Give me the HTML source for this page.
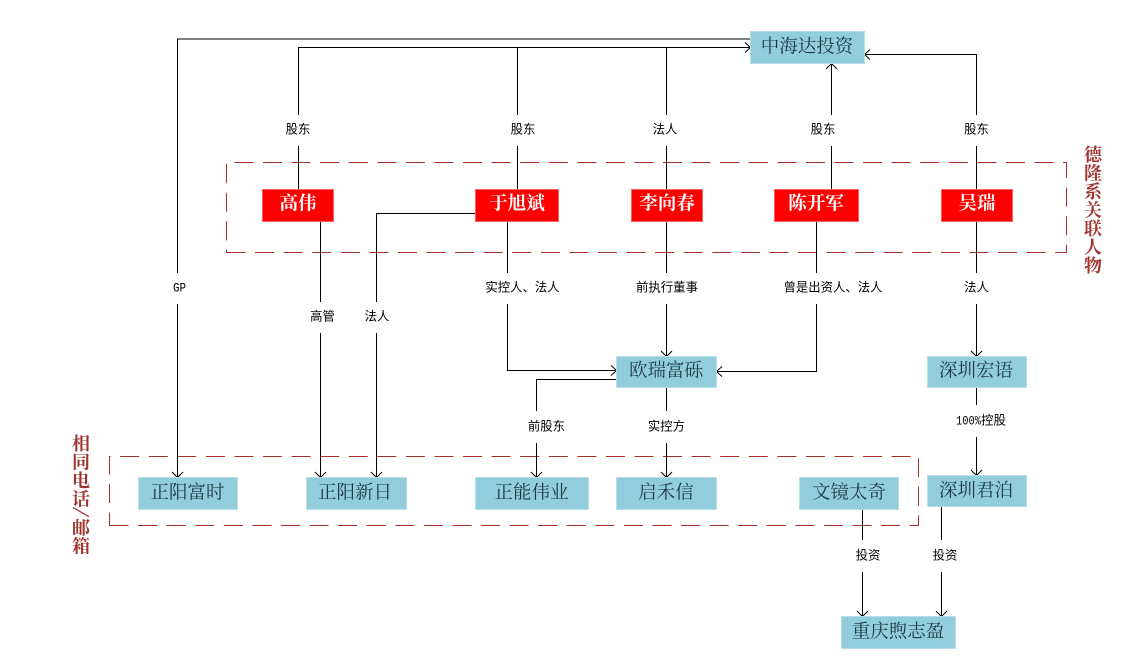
<!DOCTYPE html>
<html><head><meta charset="utf-8">
<style>
html,body{margin:0;padding:0;background:#fff;}
svg{display:block;}
.b{fill:#92cddc;stroke:#b7dee8;stroke-width:1;}
.r{fill:#ff0000;stroke:#ff6060;stroke-width:1;}
.bt{font-family:"Liberation Serif","Noto Serif CJK SC",serif;font-size:18.5px;fill:#1f3a44;text-anchor:middle;}
.rt{font-family:"Liberation Serif","Noto Serif CJK SC",serif;font-size:18.5px;font-weight:bold;fill:#fff;text-anchor:middle;}
.l{font-family:"Liberation Sans","WenQuanYi Zen Hei",sans-serif;font-size:12.4px;fill:#000;text-anchor:middle;}
.m{font-family:"Liberation Mono",monospace;font-size:12.5px;fill:#000;}
.v{font-family:"Liberation Serif","Noto Serif CJK SC",serif;font-size:18px;font-weight:bold;fill:#a0352f;text-anchor:middle;}
.c{fill:none;stroke:#000;stroke-width:1;}
.d{fill:none;stroke:#a8302b;stroke-width:1;stroke-dasharray:19.05 9.525;}
</style></head>
<body>
<svg width="1148" height="666" viewBox="0 0 1148 666" xmlns="http://www.w3.org/2000/svg">
<path class="d" d="M226.5 252.5H1066.5V162.5H226.5Z"/>
<path class="d" d="M109.5 525.5H918.5V456.5H109.5Z"/>

<!-- connectors -->
<path class="c" d="M177.5 273V39H750M177.5 304V477"/>
<path class="c" d="M298.5 115V47.5H750M298.5 146V189"/>
<path class="c" d="M517.5 115V47.5M517.5 146V189"/>
<path class="c" d="M666.5 115V47.5M666.5 146V189"/>
<path class="c" d="M831.5 115V63M831.5 146V189"/>
<path class="c" d="M976.5 115V54.5H864M976.5 146V189"/>
<path class="c" d="M320.5 221V302M320.5 333V477"/>
<path class="c" d="M475 213.5H376.5V302M376.5 333V477"/>
<path class="c" d="M507.5 221V273M507.5 304V370.5H616"/>
<path class="c" d="M666.5 221V273M666.5 304V356"/>
<path class="c" d="M816.5 221V273M816.5 304V371.5H717"/>
<path class="c" d="M976.5 221V273M976.5 304V356"/>
<path class="c" d="M616 379.5H536.5V411M536.5 443V477"/>
<path class="c" d="M666.5 387V411M666.5 443V477"/>
<path class="c" d="M976.5 387V405M976.5 437V475"/>
<path class="c" d="M862.5 509V540M862.5 572V616"/>
<path class="c" d="M941.5 506V540M941.5 572V616"/>

<!-- arrowheads -->
<path class="c" d="M745 42.5L750.5 47.5L745 52.5"/>
<path class="c" d="M826 69L831.5 63.5L837 69"/>
<path class="c" d="M870 49.5L864.5 54.5L870 59.5"/>
<path class="c" d="M172 472L177.5 477.5L183 472"/>
<path class="c" d="M315 472L320.5 477.5L326 472"/>
<path class="c" d="M371 472L376.5 477.5L382 472"/>
<path class="c" d="M531 472L536.5 477.5L542 472"/>
<path class="c" d="M661 472L666.5 477.5L672 472"/>
<path class="c" d="M661 351L666.5 356.5L672 351"/>
<path class="c" d="M971 351L976.5 356.5L982 351"/>
<path class="c" d="M971 470L976.5 475.5L982 470"/>
<path class="c" d="M611 365.5L616.5 370.5L611 375.5"/>
<path class="c" d="M722 366.5L716.5 371.5L722 376.5"/>
<path class="c" d="M857 611L862.5 616.5L868 611"/>
<path class="c" d="M936 611L941.5 616.5L947 611"/>

<!-- boxes -->
<rect class="b" x="750.5" y="31.5" width="114" height="32"/>
<rect class="r" x="262.5" y="189.5" width="71" height="32"/>
<rect class="r" x="475.5" y="189.5" width="83" height="32"/>
<rect class="r" x="631.5" y="189.5" width="71" height="32"/>
<rect class="r" x="774.5" y="189.5" width="84" height="32"/>
<rect class="r" x="941.5" y="189.5" width="71" height="32"/>
<rect class="b" x="138.5" y="477.5" width="99" height="32"/>
<rect class="b" x="306.5" y="477.5" width="100" height="32"/>
<rect class="b" x="475.5" y="477.5" width="113" height="32"/>
<rect class="b" x="616.5" y="477.5" width="100" height="32"/>
<rect class="b" x="799.5" y="477.5" width="99" height="32"/>
<rect class="b" x="616.5" y="356.5" width="100" height="31"/>
<rect class="b" x="927.5" y="356.5" width="99" height="31"/>
<rect class="b" x="927.5" y="475.5" width="99" height="31"/>
<rect class="b" x="841.5" y="616.5" width="114" height="32"/>

<!-- box text -->
<text class="bt" x="807" y="52.5">中海达投资</text>
<text class="rt" x="298" y="209.5">高伟</text>
<text class="rt" x="517" y="209.5">于旭斌</text>
<text class="rt" x="667" y="209.5">李向春</text>
<text class="rt" x="816" y="209.5">陈开军</text>
<text class="rt" x="977" y="209.5">吴瑞</text>
<text class="bt" x="187.5" y="498.5">正阳富时</text>
<text class="bt" x="355" y="498.5">正阳新日</text>
<text class="bt" x="531.5" y="498.5">正能伟业</text>
<text class="bt" x="666" y="498.5">启禾信</text>
<text class="bt" x="849" y="498.5">文镜太奇</text>
<text class="bt" x="666" y="376.5">欧瑞富砾</text>
<text class="bt" x="976" y="376.5">深圳宏语</text>
<text class="bt" x="976" y="496.5">深圳君泊</text>
<text class="bt" x="898" y="637.5">重庆煦志盈</text>

<!-- connector labels -->
<text class="l" x="298" y="133.5">股东</text>
<text class="l" x="523" y="133.5">股东</text>
<text class="l" x="665" y="133.5">法人</text>
<text class="l" x="823" y="133.5">股东</text>
<text class="l" x="976.5" y="133.5">股东</text>
<text class="m" x="173" y="291.5" textLength="13" lengthAdjust="spacingAndGlyphs">GP</text>
<text class="l" x="322.5" y="320.5">高管</text>
<text class="l" x="377" y="320.5">法人</text>
<text class="l" x="522.5" y="291.5">实控人、法人</text>
<text class="l" x="667" y="291.5">前执行董事</text>
<text class="l" x="833" y="291.5">曾是出资人、法人</text>
<text class="l" x="976.5" y="291.5">法人</text>
<text class="l" x="546.5" y="430.5">前股东</text>
<text class="l" x="666.5" y="430.5">实控方</text>
<text class="m" x="956" y="424.5" textLength="25" lengthAdjust="spacingAndGlyphs">100%</text>
<text class="l" x="993.5" y="424.5">控股</text>
<text class="l" x="868" y="559.5">投资</text>
<text class="l" x="945" y="559.5">投资</text>

<!-- side titles -->
<text class="v" x="1093" y="161">德</text>
<text class="v" x="1093" y="179.5">隆</text>
<text class="v" x="1093" y="198">系</text>
<text class="v" x="1093" y="216.5">关</text>
<text class="v" x="1093" y="235">联</text>
<text class="v" x="1093" y="253.5">人</text>
<text class="v" x="1093" y="272">物</text>
<text class="v" x="81" y="450">相</text>
<text class="v" x="81" y="468.5">同</text>
<text class="v" x="81" y="487">电</text>
<text class="v" x="81" y="505.5">话</text>
<text class="v" x="81" y="520.5" style="font-size:26px;font-weight:normal" transform="rotate(101 81 512)">/</text>
<text class="v" x="81" y="534">邮</text>
<text class="v" x="81" y="552.5">箱</text>
</svg>
</body></html>
